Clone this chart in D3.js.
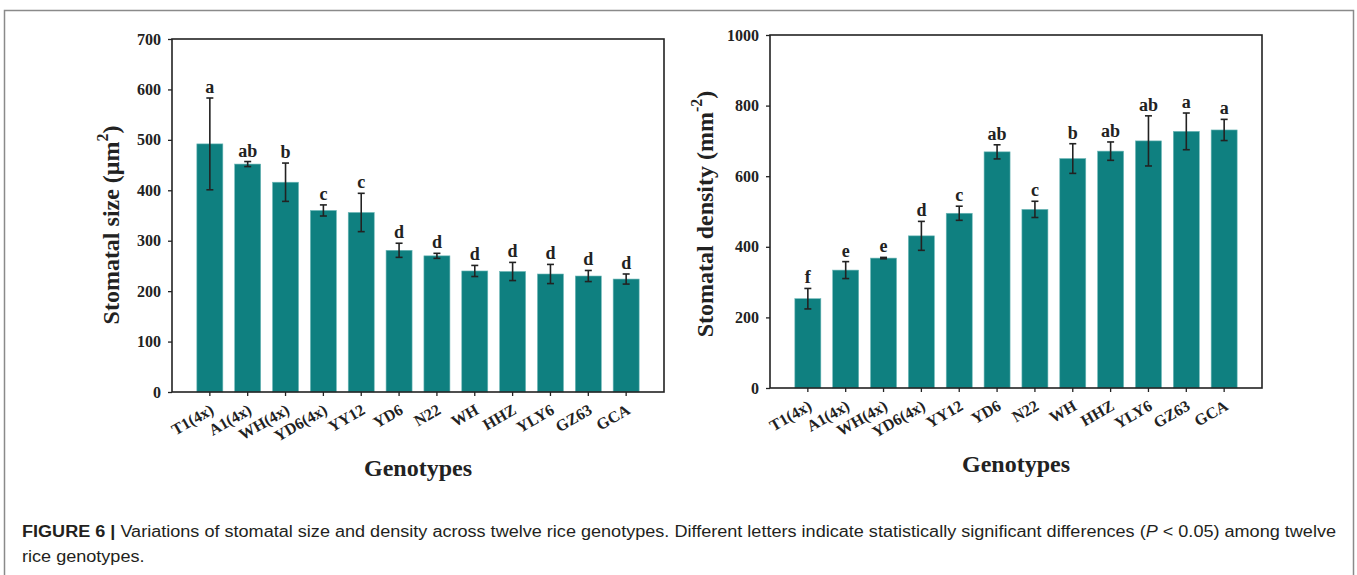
<!DOCTYPE html>
<html>
<head>
<meta charset="utf-8">
<script src="https://cdn.jsdelivr.net/npm/d3@7"></script>
<style>
  html, body { margin: 0; padding: 0; background: #fff; }
  svg { display: block; }
</style>
</head>
<body>
<svg id="chart" width="1357" height="575"></svg>
<script>
// ---------- DATA ----------
const categories = ["T1(4x)","A1(4x)","WH(4x)","YD6(4x)","YY12","YD6","N22","WH","HHZ","YLY6","GZ63","GCA"];

const sizeMean    = [492, 452, 416, 360, 356, 281, 270, 240, 239, 234, 230, 224];
const sizeErr     = [91, 5, 38, 11, 38, 14, 5, 11, 18, 19, 11, 10];
const sizeLetters = ["a","ab","b","c","c","d","d","d","d","d","d","d"];
const sizeTicks   = [0, 100, 200, 300, 400, 500, 600, 700];

const densityMean    = [253, 334, 368, 431, 495, 669, 506, 650, 671, 700, 727, 731];
const densityErr     = [29, 24, 2, 41, 20, 20, 23, 42, 26, 71, 52, 30];
const densityLetters = ["f","e","e","d","c","ab","c","b","ab","ab","a","a"];
const densityTicks   = [0, 200, 400, 600, 800, 1000];

const xTitle = "Genotypes";
const captionBold = "FIGURE 6 |";
const captionLine1a = " Variations of stomatal size and density across twelve rice genotypes. Different letters indicate statistically significant differences (";
const captionItalic = "P";
const captionLine1b = " < 0.05) among twelve";
const captionLine2 = "rice genotypes.";

// ---------- DRAW ----------
const svg = d3.select("#chart");
const SERIF = "'Liberation Serif', 'Times New Roman', serif";
const SANS = "'Liberation Sans', Arial, sans-serif";
const BAR = "#0f8080";
const INK = "#222";

// outer figure frame
svg.append("rect")
  .attr("x", 4.5).attr("y", 10.5)
  .attr("width", 1349).attr("height", 620)
  .attr("fill", "none").attr("stroke", "#8a8a8a").attr("stroke-width", 1.5);

function panel(cfg) {
  const g = svg.append("g");
  const x = d3.scaleBand().domain(categories)
    .range([cfg.x0, cfg.x1]).paddingInner(0.313).paddingOuter(0.6565);
  const y = d3.scaleLinear().domain(cfg.domain).range([cfg.yBot, cfg.yTop]);

  // bars
  g.selectAll("rect.bar").data(categories).join("rect")
    .attr("class", "bar")
    .attr("x", d => x(d))
    .attr("width", x.bandwidth())
    .attr("y", (d, i) => y(cfg.mean[i]))
    .attr("height", (d, i) => y(0) - y(cfg.mean[i]))
    .attr("fill", BAR)
    .attr("stroke", "#6fb8b8").attr("stroke-width", 0.6);

  // error bars
  const cap = 3.5;
  const eb = g.selectAll("g.eb").data(categories).join("g").attr("class", "eb");
  eb.append("line")
    .attr("x1", d => x(d) + x.bandwidth() / 2).attr("x2", d => x(d) + x.bandwidth() / 2)
    .attr("y1", (d, i) => y(cfg.mean[i] - cfg.err[i]))
    .attr("y2", (d, i) => y(cfg.mean[i] + cfg.err[i]))
    .attr("stroke", INK).attr("stroke-width", 1.6);
  eb.append("line")
    .attr("x1", d => x(d) + x.bandwidth() / 2 - cap).attr("x2", d => x(d) + x.bandwidth() / 2 + cap)
    .attr("y1", (d, i) => y(cfg.mean[i] + cfg.err[i]))
    .attr("y2", (d, i) => y(cfg.mean[i] + cfg.err[i]))
    .attr("stroke", INK).attr("stroke-width", 1.6);
  eb.append("line")
    .attr("x1", d => x(d) + x.bandwidth() / 2 - cap).attr("x2", d => x(d) + x.bandwidth() / 2 + cap)
    .attr("y1", (d, i) => y(cfg.mean[i] - cfg.err[i]))
    .attr("y2", (d, i) => y(cfg.mean[i] - cfg.err[i]))
    .attr("stroke", INK).attr("stroke-width", 1.6);

  // significance letters
  g.selectAll("text.letter").data(categories).join("text")
    .attr("class", "letter")
    .attr("x", d => x(d) + x.bandwidth() / 2)
    .attr("y", (d, i) => y(cfg.mean[i] + cfg.err[i]) - 5)
    .attr("text-anchor", "middle")
    .attr("font-family", SERIF).attr("font-weight", "bold").attr("font-size", 18)
    .attr("fill", INK)
    .text((d, i) => cfg.letters[i]);

  // y axis
  const ya = g.append("g").attr("transform", `translate(${cfg.x0},0)`)
    .call(d3.axisLeft(y).tickValues(cfg.ticks).tickFormat(d3.format("d"))
      .tickSize(4).tickSizeOuter(0).tickPadding(7));
  ya.select(".domain").remove();
  ya.selectAll("line").attr("stroke", INK).attr("stroke-width", 1.3);
  ya.selectAll("text").attr("font-family", SERIF).attr("font-weight", "bold")
    .attr("font-size", 16).attr("fill", INK);

  // x axis
  const xa = g.append("g").attr("transform", `translate(0,${cfg.yBot})`)
    .call(d3.axisBottom(x).tickSize(4).tickSizeOuter(0));
  xa.select(".domain").remove();
  xa.selectAll("line").attr("stroke", INK).attr("stroke-width", 1.3);
  xa.selectAll("text")
    .attr("x", 0).attr("y", 0).attr("dy", 0)
    .attr("text-anchor", "end")
    .attr("transform", "translate(5,21) rotate(-30)")
    .attr("font-family", SERIF).attr("font-weight", "bold")
    .attr("font-size", 16).attr("fill", INK);

  // frame
  g.append("rect")
    .attr("x", cfg.x0).attr("y", cfg.yTop)
    .attr("width", cfg.x1 - cfg.x0).attr("height", cfg.yBot - cfg.yTop)
    .attr("fill", "none").attr("stroke", INK).attr("stroke-width", 1.6);

  // x title
  g.append("text")
    .attr("x", (cfg.x0 + cfg.x1) / 2).attr("y", cfg.xTitleY)
    .attr("text-anchor", "middle")
    .attr("font-family", SERIF).attr("font-weight", "bold").attr("font-size", 24)
    .attr("fill", INK).text(xTitle);

  // y title
  const yt = g.append("text")
    .attr("transform", `translate(${cfg.yTitleX},${cfg.yTitleY}) rotate(-90)`)
    .attr("text-anchor", "middle")
    .attr("font-family", SERIF).attr("font-weight", "bold").attr("font-size", 24)
    .attr("fill", INK);
  yt.append("tspan").text(cfg.yTitle);
  yt.append("tspan").attr("dy", -11).attr("font-size", 16).text(cfg.ySup);
  yt.append("tspan").attr("dy", 11).text(")");
}

panel({
  x0: 172, x1: 664, yTop: 39, yBot: 392, domain: [0, 700],
  mean: sizeMean, err: sizeErr, letters: sizeLetters, ticks: sizeTicks,
  xTitleY: 476, yTitleX: 119, yTitleY: 225,
  yTitle: "Stomatal size (\u03bcm", ySup: "2"
});

panel({
  x0: 770, x1: 1262, yTop: 35, yBot: 388, domain: [0, 1000],
  mean: densityMean, err: densityErr, letters: densityLetters, ticks: densityTicks,
  xTitleY: 472, yTitleX: 713, yTitleY: 214,
  yTitle: "Stomatal density (mm", ySup: "-2"
});

// caption
const cap1 = svg.append("text")
  .attr("x", 22).attr("y", 537)
  .attr("font-family", SANS).attr("font-size", 16).attr("fill", "#231f20");
cap1.append("tspan").attr("font-weight", "bold").text(captionBold);
cap1.append("tspan").text(captionLine1a);
cap1.append("tspan").attr("font-style", "italic").text(captionItalic);
cap1.append("tspan").text(captionLine1b);

const cap2 = svg.append("text")
  .attr("x", 22).attr("y", 562)
  .attr("font-family", SANS).attr("font-size", 16).attr("fill", "#231f20")
  .text(captionLine2);

const natural1 = cap1.node().getComputedTextLength();
const factor = 1314 / natural1;
cap1.attr("textLength", 1314).attr("lengthAdjust", "spacingAndGlyphs");
const natural2 = cap2.node().getComputedTextLength();
cap2.attr("textLength", natural2 * factor).attr("lengthAdjust", "spacingAndGlyphs");
</script>
</body>
</html>
